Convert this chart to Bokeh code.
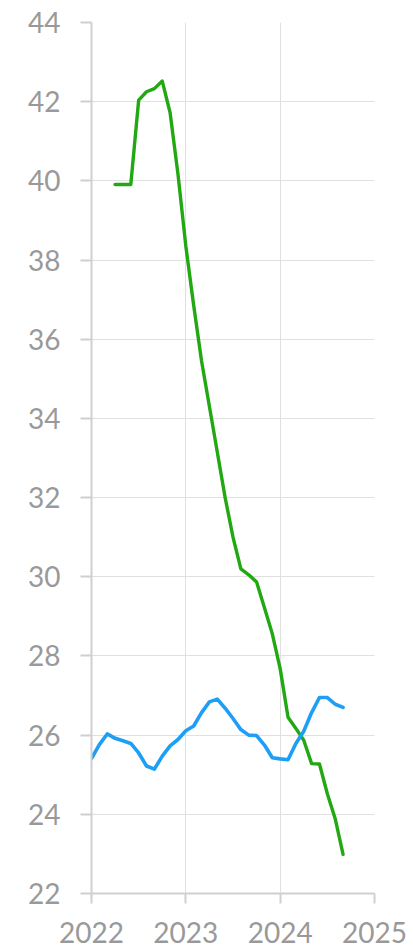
import pandas as pd
from bokeh.plotting import figure
from bokeh.models import Range1d, FixedTicker
from bokeh.embed import file_html
from bokeh.resources import INLINE

# ---- data ----
blue_dates = ["2022-01", "2022-02", "2022-03", "2022-04", "2022-05", "2022-06",
              "2022-07", "2022-08", "2022-09", "2022-10", "2022-11", "2022-12",
              "2023-01", "2023-02", "2023-03", "2023-04", "2023-05", "2023-06",
              "2023-07", "2023-08", "2023-09", "2023-10", "2023-11", "2023-12",
              "2024-01", "2024-02", "2024-03", "2024-04", "2024-05", "2024-06",
              "2024-07", "2024-08", "2024-09"]
blue_values = [25.41, 25.76, 26.03, 25.92, 25.86, 25.79, 25.55, 25.22, 25.14, 25.47,
               25.73, 25.89, 26.11, 26.23, 26.57, 26.84, 26.91, 26.68, 26.42, 26.14,
               26.00, 25.99, 25.75, 25.43, 25.40, 25.38, 25.79, 26.10, 26.57, 26.95,
               26.95, 26.78, 26.70]

green_dates = ["2022-04", "2022-05", "2022-06",
               "2022-07", "2022-08", "2022-09", "2022-10", "2022-11", "2022-12",
               "2023-01", "2023-02", "2023-03", "2023-04", "2023-05", "2023-06",
               "2023-07", "2023-08", "2023-09", "2023-10", "2023-11", "2023-12",
               "2024-01", "2024-02", "2024-03", "2024-04", "2024-05", "2024-06",
               "2024-07", "2024-08", "2024-09"]
green_values = [39.91, 39.91, 39.91, 42.04, 42.25, 42.33, 42.52, 41.72, 40.17, 38.35,
                36.85, 35.45, 34.30, 33.15, 32.00, 31.00, 30.20, 30.05, 29.87, 29.22,
                28.56, 27.68, 26.45, 26.17, 25.87, 25.28, 25.27, 24.52, 23.89, 22.99]

x_ticks = [2022, 2023, 2024, 2025]
y_ticks = [22, 24, 26, 28, 30, 32, 34, 36, 38, 40, 42, 44]


def to_year(dates):
    d = pd.to_datetime(dates)
    return list(d.year + (d.month - 1) / 12.0)


p = figure(width=413, height=948, output_backend="svg", toolbar_location=None,
           x_range=Range1d(x_ticks[0], x_ticks[-1]), y_range=Range1d(y_ticks[0], y_ticks[-1]),
           min_border_left=91, min_border_right=39, min_border_top=22, min_border_bottom=55)
p.outline_line_color = None
p.background_fill_color = "white"
p.border_fill_color = "white"

p.line(to_year(green_dates), green_values, line_color="#22a812", line_width=3.4,
       line_join="round", line_cap="round")
p.line(to_year(blue_dates), blue_values, line_color="#1e9ff5", line_width=3.6,
       line_join="round", line_cap="round")

p.xaxis.ticker = FixedTicker(ticks=x_ticks)
p.yaxis.ticker = FixedTicker(ticks=y_ticks)
p.xgrid.ticker = FixedTicker(ticks=x_ticks)
p.ygrid.ticker = FixedTicker(ticks=y_ticks)
p.grid.grid_line_color = "#e0e0e0"
p.grid.grid_line_width = 1

for ax in (p.xaxis, p.yaxis):
    ax.axis_line_color = "#d0d0d0"
    ax.axis_line_width = 2
    ax.major_tick_line_color = "#d0d0d0"
    ax.major_tick_line_width = 2
    ax.major_tick_in = 0
    ax.minor_tick_line_color = None
    ax.major_label_text_font = "Lato"
    ax.major_label_text_font_size = "28px"
    ax.major_label_text_color = "#999999"

p.yaxis.major_tick_out = 11
p.yaxis.major_label_standoff = 20
p.xaxis.major_tick_out = 10
p.xaxis.major_label_standoff = 18

open("out.html", "w").write(file_html(p, INLINE))
